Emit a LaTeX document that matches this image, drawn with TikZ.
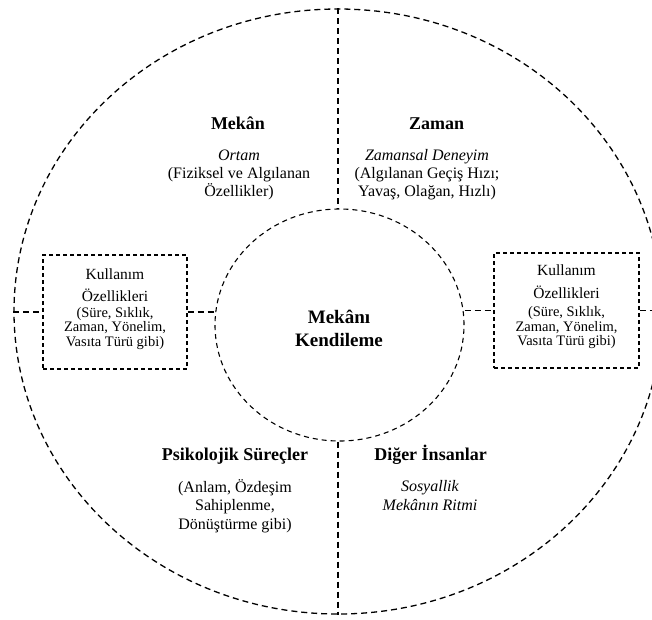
\documentclass[tikz,border=0pt]{standalone}
\usepackage{fontspec}
\setmainfont{Liberation Serif}
\usetikzlibrary{shapes.geometric}
\begin{document}
\begin{tikzpicture}[x=1pt,y=-1pt,
  outerline/.style={draw=black, line width=1.3pt, dash pattern=on 6pt off 4pt},
  innerline/.style={draw=black, line width=1.1pt, dash pattern=on 5pt off 4pt},
  boxline/.style={draw=black, line width=1.1pt, dash pattern=on 4pt off 3pt},
  conn/.style={draw=black, line width=1.3pt, dash pattern=on 6pt off 4pt},
  usebox/.style={boxline, rectangle, inner sep=0pt},
  head/.style={anchor=base, align=center, font=\fontsize{18}{20}\selectfont\bfseries, inner sep=0pt},
  body/.style={anchor=base, align=center, font=\fontsize{16}{18.2}\selectfont, inner sep=0pt},
  boxbig/.style={anchor=base, align=center, font=\fontsize{15.5}{22.7}\selectfont, inner sep=0pt},
  boxsmall/.style={anchor=base, align=center, font=\fontsize{14.5}{14.5}\selectfont, inner sep=0pt},
  coretxt/.style={anchor=base, align=center, font=\fontsize{19}{23}\selectfont\bfseries, inner sep=0pt}]
\clip (0,0) rectangle (652,619);
\fill[white] (0,0) rectangle (652,619);
% circles
\node[ellipse, outerline, minimum width=648pt, minimum height=605pt, inner sep=0pt] (outer) at (338,311.5) {};
\node[ellipse, innerline, minimum width=249pt, minimum height=232pt, inner sep=0pt] (core) at (339.5,325) {};
% boxes
\node[usebox, minimum width=144pt, minimum height=114pt] (lbox) at (115,312) {};
\node[usebox, minimum width=145pt, minimum height=115pt] (rbox) at (566.5,310.5) {};
% connectors
\draw[conn] (outer.north) -- (outer.north |- core.north);
\draw[conn] (outer.south |- core.south) -- (outer.south);
\draw[conn] (outer.west |- lbox.west) -- (lbox.west);
\draw[conn] (lbox.east) -- (core.west |- lbox.east);
\draw[conn] (core.east |- rbox.west) -- (rbox.west);
\draw[conn] (rbox.east) -- (outer.east |- rbox.east);
% centre text (base anchor = last line)
\node[coretxt] (ctext) at (339,346) {Mekânı\\Kendileme};
% quadrant texts
\node[head] (mekan) at (238,129) {Mekân};
\node[body] (mekanb) at (239,196.4) {\textit{Ortam}\\(Fiziksel ve Algılanan\\Özellikler)};
\node[head] (zaman) at (436.5,129) {Zaman};
\node[body] (zamanb) at (427,196.4) {\textit{Zamansal Deneyim}\\(Algılanan Geçiş Hızı;\\Yavaş, Olağan, Hızlı)};
\node[head] (psiko) at (235,460) {Psikolojik Süreçler};
\node[body] (psikob) at (235,529) {(Anlam, Özdeşim\\Sahiplenme,\\Dönüştürme gibi)};
\node[head] (diger) at (430.5,460) {Diğer İnsanlar};
\node[body] (digerb) at (430,510) {\textit{Sosyallik}\\\textit{Mekânın Ritmi}};
% box texts
\node[boxbig] (lbig) at (115,301.7) {Kullanım\\Özellikleri};
\node[boxsmall] (lsmall) at (115,346) {(Süre, Sıklık,\\Zaman, Yönelim,\\Vasıta Türü gibi)};
\node[boxbig] (rbig) at (566.5,298.5) {Kullanım\\Özellikleri};
\node[boxsmall] (rsmall) at (566.5,345.5) {(Süre, Sıklık,\\Zaman, Yönelim,\\Vasıta Türü gibi)};
\end{tikzpicture}
\end{document}
